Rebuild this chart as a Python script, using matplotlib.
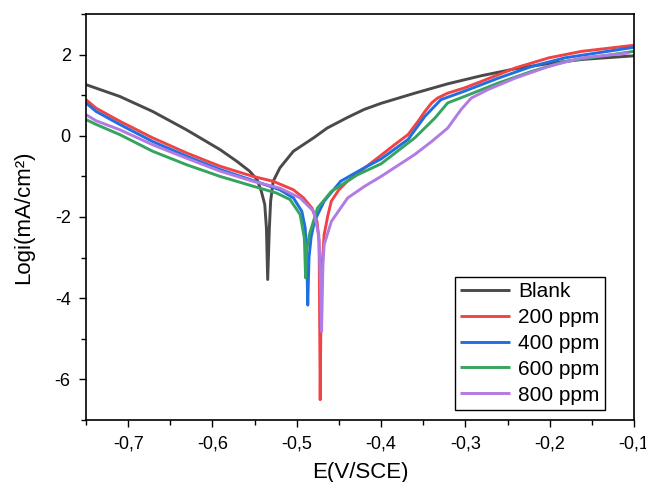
import matplotlib
matplotlib.use("Agg")
import matplotlib.pyplot as plt
from matplotlib.ticker import MultipleLocator, FuncFormatter

plt.rcParams['font.family'] = ['Liberation Sans', 'DejaVu Sans']
plt.rcParams['axes.unicode_minus'] = False

labels = ["Blank", "200 ppm", "400 ppm", "600 ppm", "800 ppm"]
colors = ["#4a4a4a", "#f04444", "#1f6fe3", "#36a45e", "#b27ae3"]

blank_E = [-0.750, -0.710, -0.671, -0.631, -0.591, -0.571, -0.556, -0.547, -0.542, -0.538, -0.536, -0.5345,
           -0.5325, -0.531, -0.528, -0.520, -0.504, -0.480, -0.464, -0.440, -0.420, -0.400, -0.360,
           -0.321, -0.281, -0.241, -0.201, -0.162, -0.100]
blank_L = [1.26, 0.97, 0.60, 0.15, -0.34, -0.63, -0.87, -1.08, -1.37, -1.69, -2.27, -3.54,
           -2.27, -1.61, -1.12, -0.79, -0.38, -0.05, 0.19, 0.45, 0.65, 0.80, 1.05,
           1.28, 1.48, 1.65, 1.78, 1.88, 1.97]

p200_E = [-0.750, -0.738, -0.710, -0.671, -0.631, -0.591, -0.552, -0.528, -0.504, -0.492, -0.482, -0.476,
          -0.4735, -0.4722, -0.4712, -0.4700, -0.4675, -0.463, -0.459, -0.450, -0.440, -0.420, -0.400,
          -0.384, -0.368, -0.356, -0.348, -0.340, -0.333, -0.321, -0.301, -0.281, -0.241, -0.201,
          -0.162, -0.100]
p200_L = [0.89, 0.68, 0.36, -0.05, -0.42, -0.75, -1.00, -1.12, -1.33, -1.53, -1.78, -2.11,
          -2.60, -6.50, -4.00, -3.20, -2.43, -1.95, -1.61, -1.33, -1.12, -0.80, -0.48,
          -0.22, 0.03, 0.36, 0.60, 0.81, 0.93, 1.05, 1.18, 1.34, 1.67, 1.92,
          2.08, 2.23]

p400_E = [-0.750, -0.738, -0.710, -0.671, -0.631, -0.591, -0.552, -0.520, -0.504, -0.494, -0.490, -0.488,
          -0.4870, -0.4855, -0.483, -0.479, -0.4675, -0.448, -0.420, -0.400, -0.368, -0.348, -0.329,
          -0.301, -0.261, -0.221, -0.182, -0.100]
p400_L = [0.81, 0.60, 0.28, -0.14, -0.50, -0.83, -1.10, -1.33, -1.53, -1.86, -2.27, -3.09,
          -4.17, -3.00, -2.50, -2.10, -1.61, -1.12, -0.79, -0.57, -0.09, 0.48, 0.89,
          1.10, 1.42, 1.71, 1.92, 2.18]

p600_E = [-0.750, -0.738, -0.710, -0.671, -0.631, -0.591, -0.552, -0.524, -0.508, -0.496, -0.491, -0.4895,
          -0.4880, -0.485, -0.4754, -0.459, -0.428, -0.400, -0.360, -0.336, -0.321, -0.301, -0.261,
          -0.221, -0.182, -0.100]
p600_L = [0.40, 0.28, 0.03, -0.38, -0.71, -1.00, -1.24, -1.41, -1.57, -1.94, -2.52, -3.50,
          -2.80, -2.43, -1.78, -1.37, -0.96, -0.69, -0.05, 0.44, 0.81, 0.97, 1.30,
          1.59, 1.83, 2.08]

p800_E = [-0.750, -0.738, -0.710, -0.671, -0.631, -0.591, -0.552, -0.520, -0.496, -0.480, -0.474, -0.472,
          -0.4706, -0.4690, -0.4675, -0.459, -0.4396, -0.420, -0.400, -0.360, -0.340, -0.321, -0.305,
          -0.293, -0.273, -0.241, -0.201, -0.162, -0.106]
p800_L = [0.52, 0.37, 0.15, -0.22, -0.55, -0.87, -1.12, -1.29, -1.53, -1.86, -2.43, -3.58,
          -4.82, -3.20, -2.68, -2.11, -1.53, -1.25, -1.00, -0.46, -0.14, 0.19, 0.65,
          0.93, 1.14, 1.42, 1.71, 1.92, 2.04]

series = [(blank_E, blank_L), (p200_E, p200_L), (p400_E, p400_L), (p600_E, p600_L), (p800_E, p800_L)]

fig = plt.figure(figsize=(6.46, 4.82), dpi=100)
ax = fig.add_axes([86/646, 1 - 420/482, (634-86)/646, (420-14)/482])

for (E, L), lab, c in zip(series, labels, colors):
    ax.plot(E, L, color=c, lw=2.1, label=lab, solid_joinstyle='round', solid_capstyle='butt')

ax.set_xlim(-0.75, -0.1)
ax.set_ylim(-7, 3)
ax.xaxis.set_major_locator(MultipleLocator(0.1))
ax.xaxis.set_minor_locator(MultipleLocator(0.05))
ax.yaxis.set_major_locator(MultipleLocator(2))
ax.yaxis.set_minor_locator(MultipleLocator(1))
ax.xaxis.set_major_formatter(FuncFormatter(lambda v, p: ("%.1f" % v).replace(".", ",")))
ax.yaxis.set_major_formatter(FuncFormatter(lambda v, p: "%d" % round(v)))
ax.tick_params(which='major', direction='out', length=5, width=1.0, labelsize=13, pad=6)
ax.tick_params(which='minor', direction='out', length=3.5, width=1.0)
for s in ax.spines.values():
    s.set_linewidth(1.2)

ax.set_xlabel("E(V/SCE)", fontsize=16, labelpad=7)
ax.set_ylabel("Logi(mA/cm²)", fontsize=16, labelpad=15)

leg = ax.legend(loc='lower right', bbox_to_anchor=(0.947, 0.025), fontsize=15, frameon=True,
                fancybox=False, edgecolor='black', framealpha=1, handlelength=2.4,
                handletextpad=0.4, labelspacing=0.33, borderpad=0.25, borderaxespad=0)
leg.get_frame().set_linewidth(1.0)

fig.savefig("out.png", dpi=100)
